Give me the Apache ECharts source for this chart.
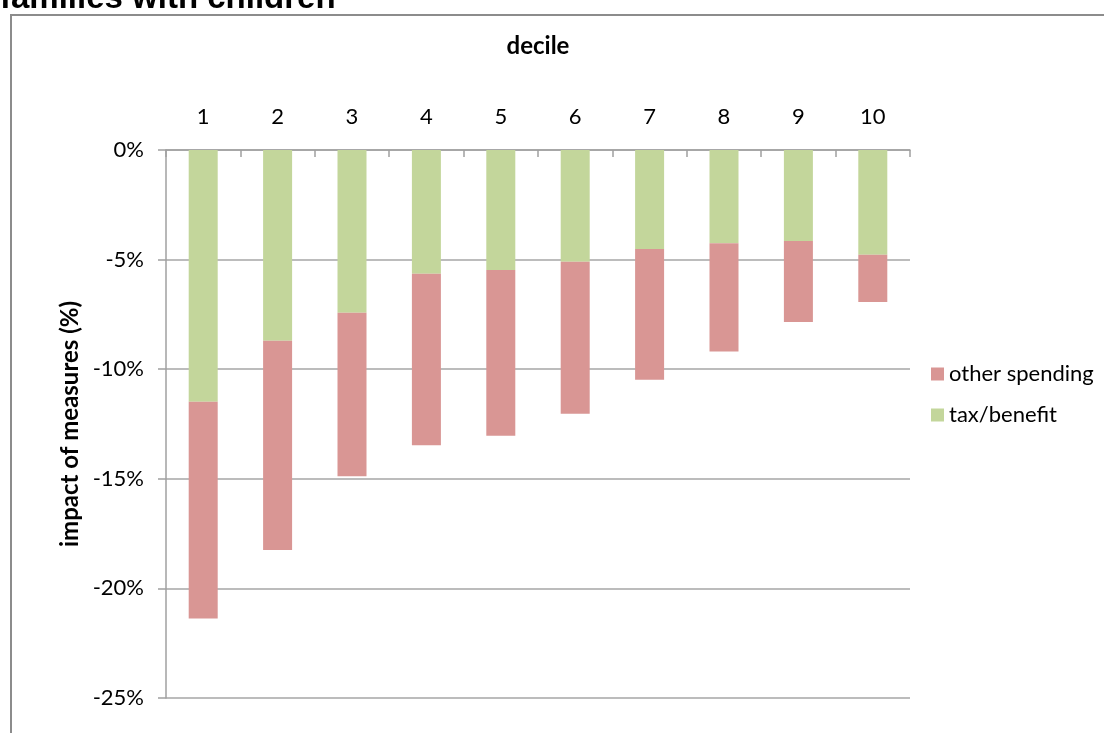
<!DOCTYPE html>
<html>
<head>
<meta charset="utf-8">
<script src="https://cdn.jsdelivr.net/npm/echarts@6/dist/echarts.min.js"></script>
<style>html,body{margin:0;padding:0;background:#fff;}#c{width:1104px;height:733px;}</style>
</head>
<body>
<div id="c"></div>
<script>
const deciles = ['1','2','3','4','5','6','7','8','9','10'];
const taxBenefit = [-11.49, -8.70, -7.43, -5.65, -5.48, -5.10, -4.52, -4.25, -4.15, -4.78];
const otherSpending = [-9.88, -9.55, -7.45, -7.82, -7.56, -6.93, -5.96, -4.94, -3.70, -2.16];
const yTicks = { min: -25, max: 0, interval: 5 };

const FONT = 'Lato';
const chart = echarts.init(document.getElementById('c'), null, { renderer: 'canvas' });
chart.setOption({
  animation: false,
  backgroundColor: '#fff',
  graphic: [
    { type: 'rect', shape: { x: 11, y: 15, width: 1110, height: 740 }, style: { fill: 'none', stroke: '#8c8c8c', lineWidth: 2 }, z: 0 },
    { type: 'text', left: 0, top: -18, style: { text: 'families with children', font: 'bold 33px "Liberation Sans"', fill: '#000' }, z: 10 }
  ],
  legend: {
    orient: 'vertical',
    left: 926,
    top: 358,
    itemWidth: 13,
    itemHeight: 13,
    itemGap: 19,
    icon: 'rect',
    textStyle: { fontFamily: FONT, fontSize: 22, color: '#000' },
    data: ['other spending', 'tax/benefit']
  },
  grid: { left: 166, right: 194, top: 150, bottom: 35, containLabel: false },
  xAxis: {
    type: 'category',
    position: 'top',
    data: deciles,
    name: 'decile',
    nameLocation: 'middle',
    nameGap: 92,
    nameTextStyle: { fontFamily: FONT, fontSize: 24, fontWeight: 'bold', color: '#000' },
    axisLine: { show: true, onZero: false, lineStyle: { color: '#a0a0a0', width: 1.5 } },
    axisTick: { show: true, inside: true, length: 7, alignWithLabel: false, lineStyle: { color: '#a0a0a0', width: 1.5 } },
    axisLabel: { fontFamily: FONT, fontSize: 22, color: '#000', margin: 22 },
    splitLine: { show: false }
  },
  yAxis: {
    type: 'value',
    min: yTicks.min,
    max: yTicks.max,
    interval: yTicks.interval,
    name: 'impact of measures (%)',
    nameLocation: 'middle',
    nameGap: 79,
    nameRotate: 90,
    nameTextStyle: { fontFamily: FONT, fontSize: 24, fontWeight: 'bold', color: '#000' },
    axisLine: { show: true, lineStyle: { color: '#a0a0a0', width: 1.5 } },
    axisTick: { show: true, inside: false, length: 8, lineStyle: { color: '#a0a0a0', width: 1.5 } },
    axisLabel: { fontFamily: FONT, fontSize: 22, color: '#000', margin: 22, formatter: '{value}%' },
    splitLine: { show: true, lineStyle: { color: '#a6a6a6', width: 1.5 } }
  },
  series: [
    { name: 'tax/benefit', type: 'bar', stack: 'total', data: taxBenefit, barWidth: 29, itemStyle: { color: '#C3D69B' } },
    { name: 'other spending', type: 'bar', stack: 'total', data: otherSpending, barWidth: 29, itemStyle: { color: '#D99694' } }
  ]
});
</script>
</body>
</html>
